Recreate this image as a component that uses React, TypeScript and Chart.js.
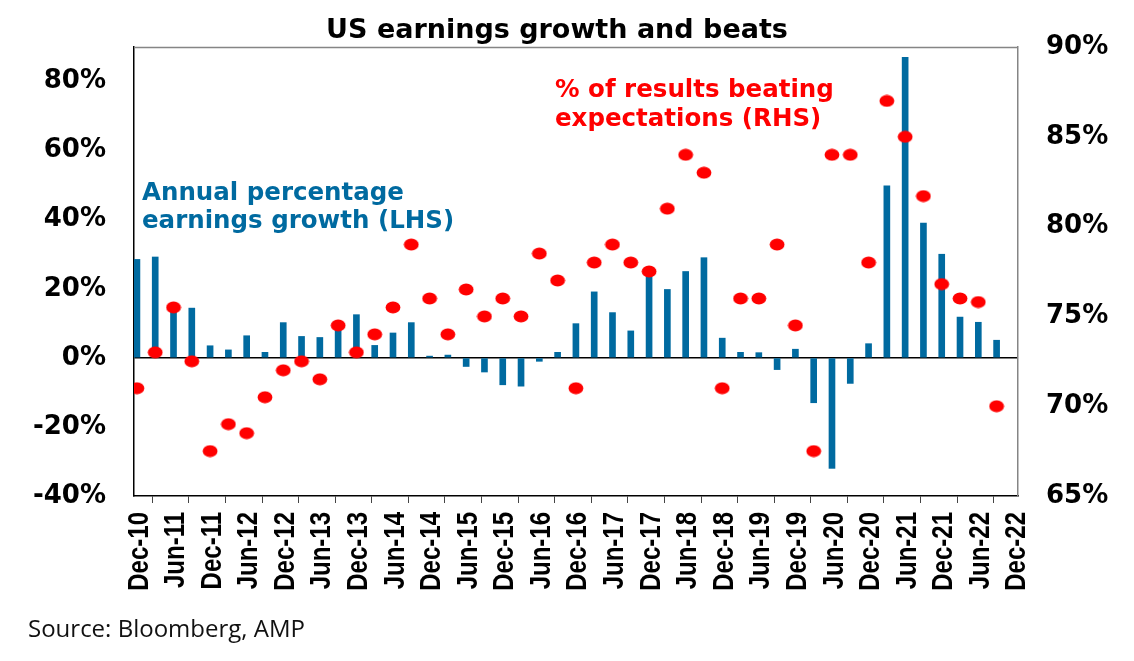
import { useEffect, useRef } from "react";
import { Chart, registerables } from "chart.js";

Chart.register(...registerables);

// tick labels along the bottom, one every two quarters
const xTickLabels = [
  "Dec-10", "Jun-11", "Dec-11", "Jun-12", "Dec-12", "Jun-13", "Dec-13",
  "Jun-14", "Dec-14", "Jun-15", "Dec-15", "Jun-16", "Dec-16", "Jun-17",
  "Dec-17", "Jun-18", "Dec-18", "Jun-19", "Dec-19", "Jun-20", "Dec-20",
  "Jun-21", "Dec-21", "Jun-22", "Dec-22",
];

// quarterly, Dec-10 .. Sep-22
const earningsGrowth = [
  28.5, 29.2, 13.5, 14.4, 3.5, 2.3, 6.4, 1.6, 10.2, 6.2, 5.9, 8.5,
  12.5, 3.6, 7.2, 10.2, 0.5, 0.8, -2.5, -4.1, -7.8, -8.2, -1.0, 1.6,
  9.9, 19.1, 13.1, 7.8, 24.5, 19.8, 25.0, 29.0, 5.7, 1.6, 1.5, -3.4,
  2.5, -13.0, -32.0, -7.4, 4.1, 49.8, 87.0, 39.0, 30.0, 11.8, 10.3, 5.1,
];

const beatRate = [
  71.0, 73.0, 75.5, 72.5, 67.5, 69.0, 68.5, 70.5, 72.0, 72.5, 71.5, 74.5,
  73.0, 74.0, 75.5, 79.0, 76.0, 74.0, 76.5, 75.0, 76.0, 75.0, 78.5, 77.0,
  71.0, 78.0, 79.0, 78.0, 77.5, 81.0, 84.0, 83.0, 71.0, 76.0, 76.0, 79.0,
  74.5, 67.5, 84.0, 84.0, 78.0, 87.0, 85.0, 81.7, 76.8, 76.0, 75.8, 70.0,
];

const TITLE = "US earnings growth and beats";
const lhsNote = ["Annual percentage", "earnings growth (LHS)"];
const rhsNote = ["% of results beating", "expectations (RHS)"];
const SOURCE = "Source: Bloomberg, AMP";

const BLUE = "#006aa0";
const RED = "#ff0000";
const BOLD = '"DejaVu Sans", sans-serif';
const ARIAL = '"Liberation Sans", Arial, sans-serif';

// data sits a little after the tick of its quarter (end-of-quarter dates)
const QUARTER_SHIFT = 0.16;

function makeDot() {
  const c = document.createElement("canvas");
  c.width = 16;
  c.height = 13;
  const g = c.getContext("2d")!;
  g.fillStyle = RED;
  g.beginPath();
  g.ellipse(8, 6.5, 7.4, 5.9, 0, 0, Math.PI * 2);
  g.fill();
  return c;
}

const overlay = {
  id: "overlay",
  afterDraw(chart: Chart) {
    const { ctx, chartArea } = chart;
    ctx.save();
    // top frame line
    ctx.strokeStyle = "#858585";
    ctx.lineWidth = 1.5;
    ctx.beginPath();
    ctx.moveTo(chartArea.left, chartArea.top + 0.5);
    ctx.lineTo(chartArea.right, chartArea.top + 0.5);
    ctx.stroke();

    // x labels: tall narrow bold text, rotated, placed on the x scale's ticks
    const xs = chart.scales.x;
    ctx.fillStyle = "#000";
    ctx.font = `bold 30px ${ARIAL}`;
    ctx.textAlign = "right";
    ctx.textBaseline = "alphabetic";
    xs.ticks.forEach((t, i) => {
      const px = xs.getPixelForValue(t.value);
      ctx.save();
      ctx.translate(px, chartArea.bottom + 16);
      ctx.rotate(-Math.PI / 2);
      ctx.scale(0.8, 1);
      ctx.fillText(xTickLabels[i], 0, 13.5);
      ctx.restore();
    });

    ctx.textAlign = "center";
    ctx.font = `bold 27px ${BOLD}`;
    ctx.fillText(TITLE, 557, 38);

    ctx.textAlign = "left";
    ctx.font = `bold 24.5px ${BOLD}`;
    ctx.fillStyle = BLUE;
    ctx.fillText(lhsNote[0], 142, 200);
    ctx.fillText(lhsNote[1], 142, 228);
    ctx.fillStyle = RED;
    ctx.fillText(rhsNote[0], 555, 97);
    ctx.fillText(rhsNote[1], 555, 126);

    ctx.fillStyle = "#111";
    ctx.font = '24px "Open Sans", sans-serif';
    ctx.fillText(SOURCE, 28, 637);
    ctx.restore();
  },
};

export default function App() {
  const canvasRef = useRef<HTMLCanvasElement | null>(null);

  useEffect(() => {
    if (!canvasRef.current) return;
    const ctx = canvasRef.current.getContext("2d");
    if (!ctx) return;

    const dot = makeDot();
    const tickFont = { family: BOLD, size: 26, weight: "bold" as const };

    const chart = new Chart(ctx, {
      type: "bar",
      data: {
        datasets: [
          {
            type: "line",
            label: "% of results beating expectations (RHS)",
            data: beatRate.map((v, i) => ({ x: i + QUARTER_SHIFT, y: v })),
            yAxisID: "y1",
            showLine: false,
            pointStyle: dot,
            pointRadius: 7,
            pointBackgroundColor: RED,
            order: 0,
          },
          {
            type: "bar",
            label: "Annual percentage earnings growth (LHS)",
            data: earningsGrowth.map((v, i) => ({ x: i + QUARTER_SHIFT, y: v })),
            yAxisID: "y",
            backgroundColor: BLUE,
            barThickness: 6,
            order: 1,
          },
        ],
      },
      options: {
        animation: false,
        responsive: false,
        layout: { padding: { top: 47, left: 0, right: 0, bottom: 0 } },
        plugins: {
          legend: { display: false },
          title: { display: false },
          tooltip: { enabled: false },
        },
        scales: {
          x: {
            type: "linear",
            min: 0,
            max: 48.33,
            offset: false,
            afterBuildTicks: (scale) => {
              scale.ticks = xTickLabels.map((_, i) => ({ value: i * 2 }));
            },
            afterFit: (scale) => {
              scale.height = 165;
            },
            grid: {
              display: true,
              drawOnChartArea: false,
              drawTicks: true,
              tickLength: 7,
              color: "#444",
            },
            border: { display: true, color: "#000", width: 1.5 },
            ticks: {
              display: false,
              autoSkip: false,
              callback: (_v, i) => xTickLabels[i],
            },
          },
          y: {
            position: "left",
            min: -40,
            max: 90,
            afterFit: (scale) => {
              scale.width = 134;
            },
            grid: {
              drawTicks: false,
              lineWidth: 1.5,
              color: (c) => (c.tick && c.tick.value === 0 ? "#000" : "rgba(0,0,0,0)"),
            },
            border: { display: true, color: "#000", width: 1.5 },
            ticks: {
              stepSize: 20,
              includeBounds: false,
              padding: 28,
              color: "#000",
              font: tickFont,
              callback: (v) => `${v}%`,
            },
          },
          y1: {
            position: "right",
            min: 65,
            max: 90,
            afterFit: (scale) => {
              scale.width = 116;
            },
            grid: { display: false, drawTicks: false },
            border: { display: true, color: "#858585", width: 1.5 },
            ticks: {
              stepSize: 5,
              padding: 28,
              color: "#000",
              font: tickFont,
              callback: (v) => `${v}%`,
            },
          },
        },
      },
      plugins: [overlay],
    });

    return () => {
      chart.destroy();
    };
  }, []);

  return (
    <div
      style={{
        position: "fixed",
        left: 0,
        top: 0,
        width: 1134,
        height: 661,
        background: "#fff",
      }}
    >
      <canvas ref={canvasRef} width={1134} height={661}></canvas>
    </div>
  );
}
